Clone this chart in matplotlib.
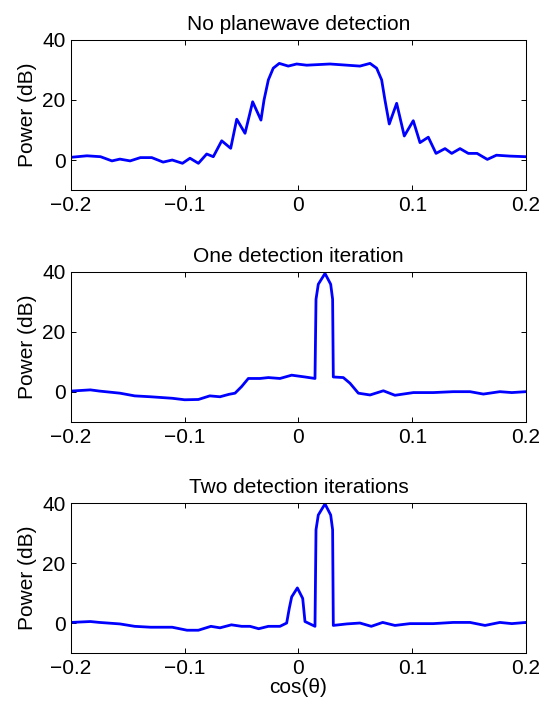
import matplotlib
matplotlib.use("Agg")
import matplotlib.pyplot as plt

plt.rcParams['font.family'] = ['Liberation Sans', 'DejaVu Sans']

# panel 1: no planewave detection
x1 = [-0.2, -0.186, -0.174, -0.164, -0.157, -0.148, -0.139, -0.129, -0.119, -0.111,
      -0.102, -0.0954, -0.088, -0.0807, -0.0749, -0.0675, -0.0596, -0.0543, -0.047, -0.0403,
      -0.033, -0.0303, -0.0265, -0.0222, -0.0169, -0.009, -0.0016, 0.0072, 0.0277, 0.054,
      0.0629, 0.0687, 0.0731, 0.076, 0.0798, 0.0863, 0.093, 0.1009, 0.1068, 0.1141,
      0.1209, 0.1288, 0.1347, 0.142, 0.1493, 0.157, 0.166, 0.174, 0.186, 0.2]
y1 = [0.9, 1.4, 1.1, -0.3, 0.3, -0.3, 0.8, 0.8, -0.7, 0.0,
      -1.1, 0.6, -1.1, 2.0, 1.1, 6.4, 3.9, 13.6, 8.9, 19.4,
      13.3, 20.0, 26.7, 30.6, 32.2, 31.3, 32.0, 31.6, 32.0, 31.3,
      32.2, 30.6, 26.7, 20.0, 12.0, 18.9, 8.0, 13.1, 5.8, 7.6,
      2.2, 3.8, 2.2, 3.8, 2.2, 2.2, 0.2, 1.6, 1.3, 1.1]

# panel 2: one detection iteration
x2 = [-0.2, -0.183, -0.175, -0.157, -0.144, -0.130, -0.111, -0.100, -0.088, -0.078,
      -0.069, -0.0613, -0.0558, -0.050, -0.0441, -0.0338, -0.0265, -0.0163, -0.006, 0.0057,
      0.0145, 0.0154, 0.0174, 0.0233, 0.0283, 0.030, 0.0306, 0.0394, 0.0453, 0.0526,
      0.0629, 0.0746, 0.0848, 0.101, 0.1185, 0.136, 0.1508, 0.1625, 0.177, 0.1875,
      0.2]
y2 = [0.3, 0.7, 0.3, -0.4, -1.3, -1.6, -2.1, -2.6, -2.5, -1.3,
      -1.6, -0.8, -0.4, 1.8, 4.5, 4.5, 4.8, 4.5, 5.6, 5.0,
      4.5, 30.9, 35.9, 39.5, 35.9, 30.9, 5.0, 4.8, 2.9, -0.4,
      -1.0, 0.4, -1.1, -0.2, -0.2, 0.1, 0.1, -0.7, 0.1, -0.2,
      0.1]

# panel 3: two detection iterations
x3 = [-0.2, -0.183, -0.175, -0.157, -0.144, -0.130, -0.111, -0.098, -0.088, -0.077,
      -0.069, -0.059, -0.050, -0.0426, -0.035, -0.0265, -0.0163, -0.0104, -0.0081, -0.006,
      -0.001, 0.0037, 0.0057, 0.0145, 0.0154, 0.0174, 0.0233, 0.0283, 0.030, 0.0306,
      0.0424, 0.054, 0.064, 0.074, 0.0848, 0.098, 0.1185, 0.136, 0.1508, 0.164,
      0.177, 0.1875, 0.2]
y3 = [0.2, 0.5, 0.2, -0.3, -1.1, -1.4, -1.4, -2.4, -2.4, -1.1,
      -1.6, -0.6, -1.1, -1.1, -1.9, -1.1, -1.1, 0.0, 4.9, 8.7,
      11.7, 8.2, 0.5, -1.1, 31.1, 36.0, 39.7, 36.0, 31.1, -0.8,
      -0.3, 0.0, -1.1, 0.2, -0.8, -0.2, -0.2, 0.2, 0.2, -0.8,
      0.2, -0.2, 0.2]

titles = ["No planewave detection", "One detection iteration", "Two detection iterations"]
xs = [x1, x2, x3]
ys = [y1, y2, y3]
bottoms = [0.7301, 0.4006, 0.0724]

fig = plt.figure(figsize=(5.52, 7.04), dpi=100)

for i in range(3):
    ax = fig.add_axes([0.1286, bottoms[i], 0.8243, 0.2131])
    ax.plot(xs[i], ys[i], color=(0, 0, 1), linewidth=2.0,
            solid_joinstyle='round', solid_capstyle='round')
    ax.set_xlim(-0.2, 0.2)
    ax.set_ylim(-10, 40)
    ax.set_xticks([-0.2, -0.1, 0, 0.1, 0.2])
    ax.set_xticklabels(["\u22120.2", "\u22120.1", "0", "0.1", "0.2"])
    ax.set_yticks([0, 20, 40])
    ax.tick_params(direction='in', length=3.6, width=0.7, labelsize=15,
                   top=True, right=True, pad=4)
    for s in ax.spines.values():
        s.set_linewidth(0.75)
    ax.set_title(titles[i], fontsize=15, pad=7)
    ax.set_ylabel("Power (dB)", fontsize=15, labelpad=4)
    if i == 2:
        ax.set_xlabel("cos(\u03b8)", fontsize=15, labelpad=0)

fig.savefig("out.png", dpi=100)
